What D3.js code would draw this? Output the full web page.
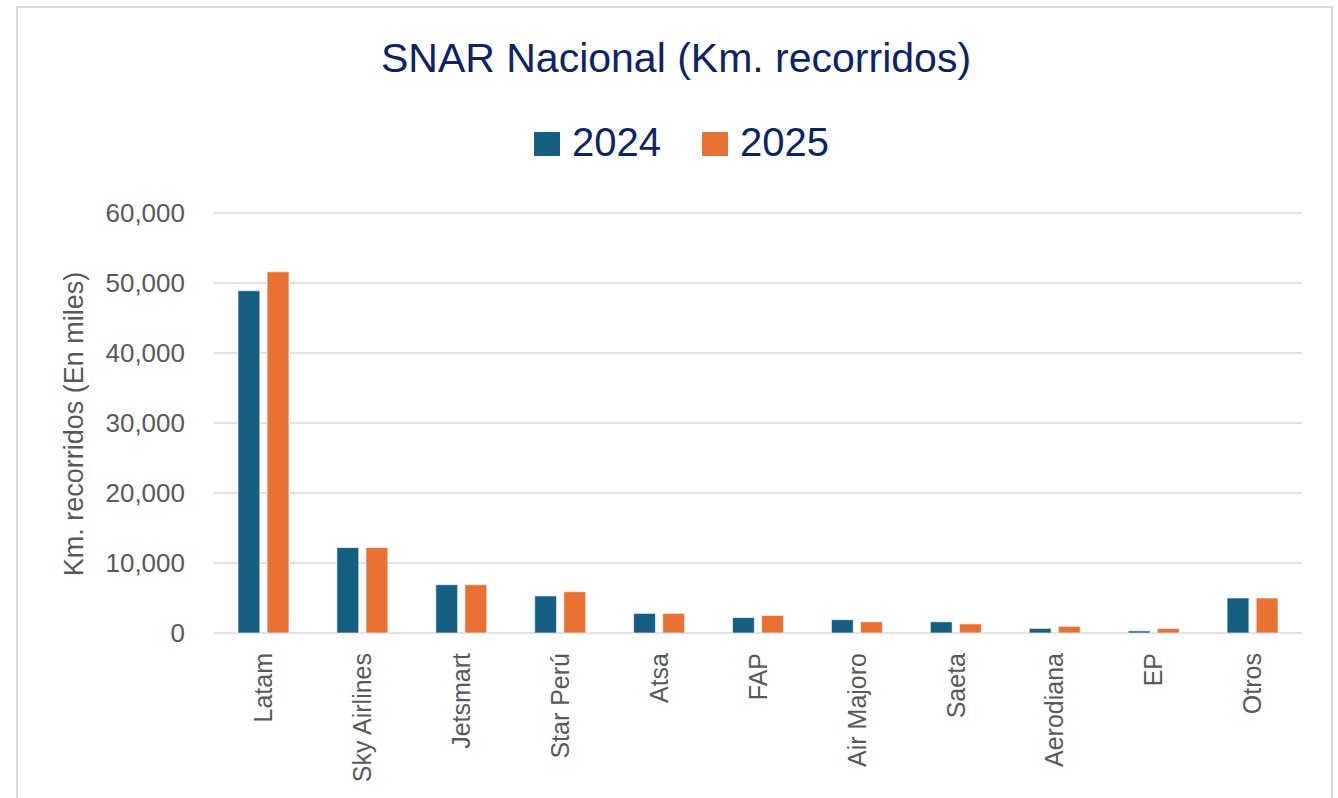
<!DOCTYPE html>
<html lang="es">
  <head>
    <meta charset="UTF-8" />
    <title>SNAR Nacional</title>
    <style>
      body { margin: 0; background: #fff; }
      svg { display: block; font-family: "Liberation Sans", Arial, sans-serif; }
    </style>
  </head>
  <body>
    <div id="chart"></div>
    <script src="https://cdn.jsdelivr.net/npm/d3@7"></script>
    <script>
      // datos (miles de km)
      var airlines = ["Latam", "Sky Airlines", "Jetsmart", "Star Perú", "Atsa", "FAP",
                      "Air Majoro", "Saeta", "Aerodiana", "EP", "Otros"];
      var years = ["2024", "2025"];
      var values2024 = [48900, 12200, 6900, 5300, 2800, 2200, 1900, 1600, 650, 300, 5000];
      var values2025 = [51600, 12200, 6900, 5900, 2800, 2500, 1600, 1300, 950, 650, 5000];
      var yTicks = [0, 10000, 20000, 30000, 40000, 50000, 60000];

      var width = 1338, height = 798;
      var margin = {top: 213, right: 36, bottom: 165, left: 214};
      var colors = {"2024": "#156082", "2025": "#E97132"};

      var svg = d3.select("#chart").append("svg")
                  .attr("width", width)
                  .attr("height", height);

      // borde del area del grafico
      svg.append("rect")
         .attr("x", 17).attr("y", 7)
         .attr("width", 1315).attr("height", 820)
         .attr("fill", "#fff")
         .attr("stroke", "#d9d9d9")
         .attr("stroke-width", 2);

      var data = airlines.map(function(a, i) {
        return {name: a, vals: [{y: "2024", v: values2024[i]}, {y: "2025", v: values2025[i]}]};
      });

      var x0 = d3.scaleBand()
                 .domain(airlines)
                 .range([margin.left, width - margin.right])
                 .paddingInner(0.485)
                 .paddingOuter(0.2425);
      var x1 = d3.scaleBand()
                 .domain(years)
                 .range([0, x0.bandwidth()])
                 .paddingInner(0.25);
      var yScale = d3.scaleLinear()
                     .domain([0, 60000])
                     .range([633, 213]);

      // lineas de cuadricula
      svg.append("g")
         .selectAll("line")
         .data(yTicks)
         .enter()
         .append("line")
         .attr("x1", margin.left)
         .attr("x2", 1302)
         .attr("y1", function(d) { return yScale(d); })
         .attr("y2", function(d) { return yScale(d); })
         .attr("stroke", "#d9d9d9")
         .attr("stroke-width", 1.5);

      var yAxis = d3.axisLeft(yScale)
                    .tickValues(yTicks)
                    .tickSize(0)
                    .tickPadding(29)
                    .tickFormat(d3.format(","));
      var gy = svg.append("g")
                  .attr("transform", "translate(" + margin.left + ",0)")
                  .call(yAxis);
      gy.select(".domain").remove();
      gy.selectAll("text")
        .attr("font-family", "Liberation Sans, Arial, sans-serif")
        .attr("font-size", 26)
        .attr("fill", "#595959");

      // barras
      var groups = svg.selectAll(".grp")
                      .data(data)
                      .enter()
                      .append("g")
                      .attr("class", "grp")
                      .attr("transform", function(d) { return "translate(" + x0(d.name) + ",0)"; });
      groups.selectAll("rect")
            .data(function(d) { return d.vals; })
            .enter()
            .append("rect")
            .attr("x", function(d) { return x1(d.y); })
            .attr("width", x1.bandwidth())
            .attr("y", function(d) { return yScale(d.v); })
            .attr("height", function(d) { return yScale(0) - yScale(d.v); })
            .attr("fill", function(d) { return colors[d.y]; })
            .attr("stroke", "#fff")
            .attr("stroke-opacity", 0.6)
            .attr("stroke-width", 1);

      var xAxis = d3.axisBottom(x0).tickSize(0).tickPadding(0);
      var gx = svg.append("g")
                  .attr("transform", "translate(0," + yScale(0) + ")")
                  .call(xAxis);
      gx.select(".domain").remove();
      gx.selectAll("text")
        .attr("font-family", "Liberation Sans, Arial, sans-serif")
        .attr("font-size", 25)
        .attr("fill", "#595959")
        .attr("text-anchor", "end")
        .attr("dy", "0.35em")
        .attr("transform", "translate(0,20) rotate(-90)")
        .attr("y", 0)
        .attr("x", 0);

      // titulo del eje y
      svg.append("text")
         .attr("transform", "translate(83,424) rotate(-90)")
         .attr("text-anchor", "middle")
         .attr("font-size", 27)
         .attr("fill", "#595959")
         .text("Km. recorridos (En miles)");

      // titulo
      svg.append("text")
         .attr("x", 676)
         .attr("y", 72)
         .attr("text-anchor", "middle")
         .attr("font-size", 41)
         .attr("fill", "#0b2563")
         .text("SNAR Nacional (Km. recorridos)");

      // leyenda
      var legendX = [534, 702];
      var legend = svg.selectAll(".leg")
                      .data(years)
                      .enter()
                      .append("g")
                      .attr("class", "leg")
                      .attr("transform", function(d, i) { return "translate(" + legendX[i] + ",132)"; });
      legend.append("rect")
            .attr("width", 26)
            .attr("height", 24)
            .attr("fill", function(d) { return colors[d]; });
      legend.append("text")
            .attr("x", 38)
            .attr("y", 24)
            .attr("font-size", 40)
            .attr("fill", "#0b2563")
            .text(function(d) { return d; });
    </script>
  </body>
</html>
